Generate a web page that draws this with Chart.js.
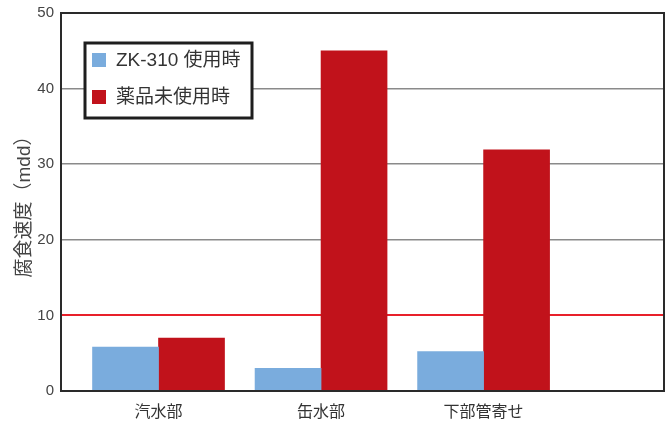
<!DOCTYPE html>
<html>
<head>
<meta charset="utf-8">
<script src="https://cdn.jsdelivr.net/npm/chart.js@4"></script>
<style>
  html, body { margin: 0; padding: 0; background: #fff; }
  #wrap { width: 666px; height: 421px; }
</style>
</head>
<body>
<div id="wrap"><canvas id="c" width="666" height="421"></canvas></div>
<script>
const categories = ['汽水部', '缶水部', '下部管寄せ'];
const withZk = [5.8, 3.0, 5.2];
const noChem = [7.0, 45.0, 31.9];
const seriesNames = ['ZK-310 使用時', '薬品未使用時'];
const yTicks = [0, 10, 20, 30, 40, 50];

const FONT = '"Liberation Sans", "Noto Sans CJK JP", sans-serif';
const BLUE = '#7aacdd';
const RED = '#c1121b';

// legend box drawn inside the plot, plus the dark frame round the plot
const framePlugin = {
  id: 'frame',
  afterDraw(chart) {
    const { ctx, chartArea: a } = chart;
    ctx.save();
    ctx.strokeStyle = '#2a2a2a';
    ctx.lineWidth = 2;
    ctx.strokeRect(a.left, a.top, a.right - a.left, a.bottom - a.top);

    // legend
    const bx = 85, by = 43, bw = 167, bh = 75;
    ctx.fillStyle = '#fff';
    ctx.fillRect(bx, by, bw, bh);
    ctx.lineWidth = 3;
    ctx.strokeStyle = '#1e1e1e';
    ctx.strokeRect(bx, by, bw, bh);
    ctx.font = '19px ' + FONT;
    ctx.textBaseline = 'middle';
    chart.data.datasets.forEach((ds, i) => {
      const y = 60 + i * 37;
      ctx.fillStyle = ds.backgroundColor;
      ctx.fillRect(92, y - 7, 14, 14);
      ctx.fillStyle = '#333';
      ctx.fillText(ds.label, 116, y + 1);
    });
    ctx.restore();
  }
};

const config = {
  type: 'bar',
  data: {
    datasets: [
      {
        label: seriesNames[0],
        data: withZk.map((v, i) => ({ x: i + 1, y: v })),
        backgroundColor: BLUE,
        barThickness: 66
      },
      {
        label: seriesNames[1],
        data: noChem.map((v, i) => ({ x: i + 1, y: v })),
        backgroundColor: RED,
        barThickness: 66
      }
    ]
  },
  options: {
    responsive: false,
    animation: false,
    layout: { padding: { top: 13, right: 2, left: 0, bottom: 0 } },
    plugins: {
      legend: { display: false },
      tooltip: { enabled: false }
    },
    scales: {
      x: {
        type: 'linear',
        offset: false,
        min: 0.4,
        max: 4.11,
        grid: { display: false, drawTicks: false, offset: false },
        border: { display: false },
        afterBuildTicks(scale) {
          scale.ticks = categories.map((c, i) => ({ value: i + 1 }));
        },
        afterFit(scale) {
          scale.height = 30;
          scale.paddingLeft = 0;
          scale.paddingRight = 0;
        },
        ticks: {
          autoSkip: false,
          maxRotation: 0,
          padding: 12,
          color: '#333',
          font: { size: 16, family: FONT },
          callback: v => categories[v - 1]
        }
      },
      y: {
        min: 0,
        max: 50,
        afterBuildTicks(scale) {
          scale.ticks = yTicks.map(v => ({ value: v }));
        },
        afterFit(scale) {
          scale.width = 61;
          scale.paddingTop = 0;
          scale.paddingBottom = 0;
        },
        border: { display: false },
        grid: {
          drawTicks: false,
          color: ctx => ctx.tick && ctx.tick.value === 10 ? '#e8202a' : '#8a8a8a',
          lineWidth: ctx => ctx.tick && ctx.tick.value === 10 ? 2 : 1.5
        },
        ticks: {
          padding: 7,
          color: '#444',
          font: { size: 15, family: FONT }
        },
        title: {
          display: true,
          text: '腐食速度（mdd）',
          color: '#444',
          padding: { top: 13, bottom: 0 },
          font: { size: 19, family: FONT }
        }
      }
    }
  },
  plugins: [framePlugin]
};

new Chart(document.getElementById('c'), config);
</script>
</body>
</html>
